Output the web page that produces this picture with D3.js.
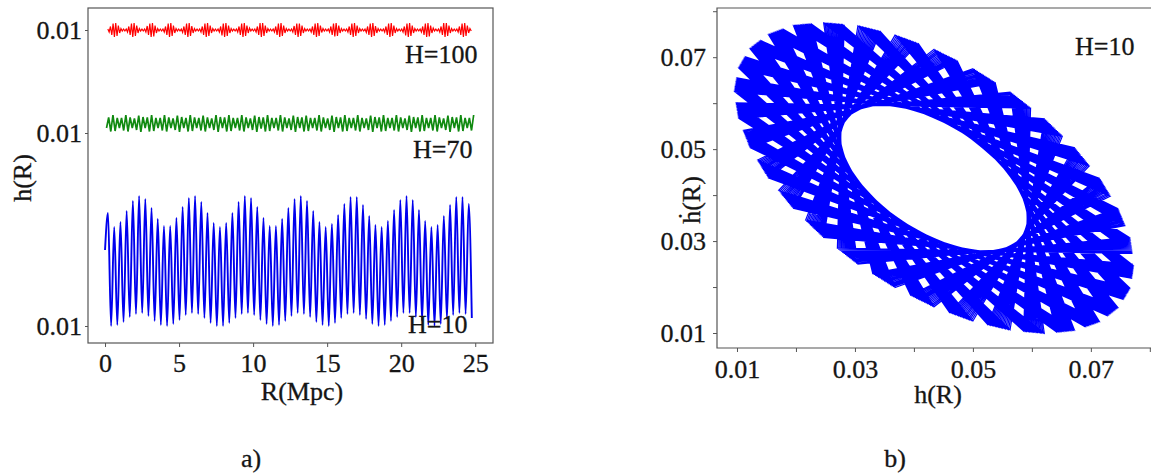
<!DOCTYPE html>
<html><head><meta charset="utf-8">
<script src="https://cdn.jsdelivr.net/npm/d3@7"></script>
<style>
body{margin:0;background:#fff;}
svg text{font-family:"Liberation Serif","Times New Roman",serif;fill:#151515;stroke:#151515;stroke-width:0.3px;}
</style></head><body>
<svg id="c" width="1151" height="474"></svg>
<script>
// ---------- panel a data ----------
const xTicksA = [0, 5, 10, 15, 20, 25];
const yTicksA = [1.7, 21.0, 31.3];
const yTickLabelsA = ["0.01", "0.01", "0.01"];
const seriesLabels = ["H=100", "H=70", "H=10"];
const blueStart = 9.3;
const bluePeaks = [13.0,11.6,12.1,13.2,14.2,14.7,14.4,13.5,12.4,11.7,
  11.7,12.5,13.6,14.5,14.7,14.1,13.0,12.0,11.6,12.0,
  13.0,14.1,14.7,14.5,13.6,12.5,11.7,11.7,12.4,13.5,
  14.4,14.7,14.2,13.2,12.1,11.6,11.9,12.8,13.9,14.6,
  14.6,13.8,12.7,11.8,11.6,12.2,13.3,14.3,14.7,14.3,
  13.3,12.2,11.6,11.8,12.7,13.8,14.6,14.6,13.9];
const blueTroughs = [1.7,1.8,2.1,2.6,2.9,3.0,2.7,2.2,1.8,1.7,
  1.9,2.3,2.8,3.0,2.9,2.5,2.0,1.7,1.7,2.0,
  2.5,2.9,3.0,2.8,2.3,1.9,1.7,1.8,2.2,2.7,
  3.0,2.9,2.6,2.1,1.8,1.7,2.0,2.5,2.9,3.0,
  2.8,2.4,1.9,1.7,1.8,2.2,2.6,3.0,3.0,2.6,
  2.2,1.8,1.7,1.9,2.4,2.8,3.0,2.9,2.5];
const redH = [
  31.4,31.1,31.65,30.8,31.95,30.6,32.0,30.7,31.75,31.0,31.45,31.2,31.4,31.2,
  31.4,31.1,31.65,30.8,31.95,30.6,32.0,30.7,31.75,31.0,31.45,31.2,31.4,31.2,
  31.4,31.1,31.7,30.8,31.95,30.6,32.0,30.65,31.75,31.0,31.45,31.2,31.4,31.2,
  31.4,31.1,31.65,30.8,31.95,30.6,32.0,30.7,31.75,31.0,31.45,31.2,31.4,31.2,
  31.4,31.05,31.65,30.8,31.95,30.6,32.0,30.7,31.7,31.0,31.45,31.2,31.4,31.2,
  31.4,31.1,31.65,30.8,31.95,30.6,32.0,30.7,31.75,31.0,31.45,31.2,31.4,31.2,
  31.4,31.1,31.65,30.75,31.95,30.6,32.0,30.7,31.75,31.0,31.45,31.2,31.4,31.2,
  31.4,31.1,31.65,30.8,31.95,30.6,32.0,30.7,31.75,31.0,31.5,31.2,31.4,31.2,
  31.4,31.1,31.65,30.8,32.0,30.6,32.0,30.7,31.75,31.0,31.45,31.2,31.4,31.2,
  31.4,31.1,31.65,30.8,31.95,30.6,32.0,30.7,31.75,31.0,31.45,31.2,31.4,31.2,
  31.4,31.1,31.7,30.8,31.95,30.6,31.95,30.7,31.75,31.0,31.45,31.2,31.4,31.2,
  31.4,31.1,31.65,30.8,31.95,30.6,32.0,30.7,31.75,31.05,31.45,31.2,31.4,31.2,
  31.4,31.1,31.65,30.8,31.95,30.65,32.0,30.7,31.75,31.0,31.45,31.2,31.4,31.2,
  31.4,31.1,31.65,30.8,31.95,30.6,32.0,30.7,31.75,31.0,31.45,31.2,31.4,31.2,
  31.4,31.05,31.65,30.8,31.95,30.6,32.0,30.7,31.7,31.0,31.45,31.2,31.4,31.2,
  31.4,31.1,31.65,30.8,31.95,30.6,32.0,30.7,31.75,31.0,31.45,31.2,31.4,31.2,
  31.4,31.1,31.65,30.75,31.95,30.6,32.0,30.7,31.75,31.0,31.45,31.2,31.4,31.2,
  31.4,31.1,31.65,30.8,31.95,30.6,32.0,30.65,31.75,31.0,31.5,31.2,31.4,31.2,
  31.4,31.1,31.65,30.8,32.0,30.6,32.0,30.7,31.75,31.0,31.45,31.2,31.4,31.2,
  31.4,31.1,31.65,30.8,31.95,30.6,32.0,30.7,31.75,31.0,31.45,31.2];
const greenH = [
  21.5,22.55,21.15,22.8,21.2,22.5,21.5,22.5,21.25,22.8,21.15,22.55,21.5,22.45,21.3,22.75,21.1,22.6,
  21.5,22.55,21.15,22.8,21.2,22.5,21.5,22.5,21.25,22.8,21.15,22.55,21.5,22.45,21.3,22.75,21.1,22.6,
  21.5,22.5,21.15,22.8,21.2,22.55,21.5,22.5,21.25,22.75,21.15,22.55,21.5,22.45,21.3,22.8,21.1,22.6,
  21.5,22.55,21.15,22.8,21.2,22.5,21.5,22.5,21.25,22.8,21.15,22.55,21.5,22.45,21.3,22.75,21.1,22.6,
  21.45,22.55,21.15,22.8,21.2,22.5,21.5,22.5,21.25,22.8,21.15,22.55,21.5,22.45,21.3,22.75,21.1,22.6,
  21.5,22.55,21.15,22.75,21.2,22.5,21.5,22.5,21.25,22.8,21.15,22.55,21.5,22.45,21.3,22.75,21.1,22.6,
  21.5,22.55,21.15,22.8,21.2,22.5,21.5,22.5,21.25,22.8,21.15,22.5,21.5,22.45,21.3,22.75,21.1,22.6,
  21.5,22.55,21.15,22.8,21.2,22.5,21.5,22.5,21.25,22.8,21.15,22.55,21.5,22.45,21.3,22.75,21.1,22.6,
  21.5,22.55,21.15,22.8,21.2,22.5,21.5,22.5,21.25,22.8,21.15,22.55,21.5,22.45,21.3,22.75,21.1,22.6,
  21.5,22.55,21.15,22.8,21.2,22.5,21.5,22.5,21.25,22.8];

// ---------- panel b data ----------
const ticksB = [0.01, 0.03, 0.05, 0.07];
const minorTicksB = [0.02, 0.04, 0.06, 0.08];
// sample points (teeth) of the h / dh trajectory
const toothH = [0.0771,0.0765,0.0745,0.0714,0.0672,0.0621,0.0563,0.0500,0.0434,0.0368,0.0305,0.0247,0.0196,0.0154,0.0123,0.0104,
  0.0097,0.0104,0.0123,0.0154,0.0196,0.0247,0.0305,0.0368,0.0434,0.0500,0.0563,0.0621,0.0672,0.0714,0.0745,0.0765];
const toothDH = [0.0250,0.0199,0.0157,0.0126,0.0107,0.0100,0.0107,0.0126,0.0157,0.0199,0.0250,0.0308,0.0371,0.0437,0.0503,0.0566,
  0.0624,0.0675,0.0717,0.0748,0.0768,0.0774,0.0768,0.0748,0.0717,0.0675,0.0624,0.0566,0.0503,0.0437,0.0371,0.0308];
const toothStep = 11;   // teeth advanced per sample
const passShift = [0, 0.04, 0.08, 0.12, 0.16, 0.2, 0.24, 0.28, 0.32, 0.36, 0.4, 0.44, 0.48, 0.52, 0.56, 0.6];

// ---------- build ----------
const svg = d3.select("#c");
const FRAME = "#555";
const FS = 26;

// panel a
const xA = d3.scaleLinear().domain([-1.15, 26.2]).range([88, 493]);
const yA = d3.scaleLinear().domain([0, 33.5]).range([343, 8]);

const blueR = [0].concat(d3.range(bluePeaks.length + blueTroughs.length).map(i => 0.2 + 0.21 * i));
const blueH = [blueStart];
bluePeaks.forEach((p, i) => { blueH.push(p); if (i < blueTroughs.length) blueH.push(blueTroughs[i]); });
const redR = redH.map((d, i) => 0.19 + 0.0886 * i);
const greenR = greenH.map((d, i) => 0.1 + 0.145 * i);

const lineA = d3.line().x(d => xA(d[0])).y(d => yA(d[1]));
const gA = svg.append("g");
gA.append("path").attr("d", lineA.curve(d3.curveLinear)(redR.map((r, i) => [r, redH[i]])))
  .attr("fill", "none").attr("stroke", "#ff0000").attr("stroke-width", 1.2);
gA.append("path").attr("d", lineA.curve(d3.curveLinear)(greenR.map((r, i) => [r, greenH[i]])))
  .attr("fill", "none").attr("stroke", "#108a10").attr("stroke-width", 1.7);
gA.append("path").attr("d", lineA.curve(d3.curveMonotoneX)(blueR.map((r, i) => [r, blueH[i]])))
  .attr("fill", "none").attr("stroke", "#0000ee").attr("stroke-width", 1.9);

gA.append("rect").attr("x", 88).attr("y", 8).attr("width", 405).attr("height", 335)
  .attr("fill", "none").attr("stroke", FRAME).attr("stroke-width", 1.2);

const axA = gA.append("g").attr("transform", "translate(0,343)")
  .call(d3.axisBottom(xA).tickValues(xTicksA).tickSize(4).tickSizeOuter(0).tickPadding(6.5));
const ayA = gA.append("g").attr("transform", "translate(88,0)")
  .call(d3.axisLeft(yA).tickValues(yTicksA).tickFormat((d, i) => yTickLabelsA[i]).tickSize(3).tickSizeOuter(0).tickPadding(3));
[axA, ayA].forEach(g => {
  g.attr("font-family", null).attr("font-size", null);
  g.select(".domain").remove();
  g.selectAll("line").attr("stroke", FRAME);
  g.selectAll("text").attr("font-size", FS).attr("fill", "#151515");
});

gA.append("text").attr("x", 405).attr("y", 63).attr("font-size", FS).text(seriesLabels[0]);
gA.append("text").attr("x", 413).attr("y", 158).attr("font-size", FS).text(seriesLabels[1]);
gA.append("text").attr("x", 408).attr("y", 333).attr("font-size", FS).text(seriesLabels[2]);
gA.append("text").attr("x", 302).attr("y", 400).attr("text-anchor", "middle").attr("font-size", FS).text("R(Mpc)");
gA.append("text").attr("transform", "translate(31,178) rotate(-90)").attr("text-anchor", "middle").attr("font-size", FS).text("h(R)");
gA.append("text").attr("x", 251).attr("y", 467).attr("text-anchor", "middle").attr("font-size", FS).text("a)");

// panel b
const xB = d3.scaleLinear().domain([0.00661, 0.0802]).range([717, 1151]);
const yB = d3.scaleLinear().domain([0.00674, 0.0807]).range([348, 8]);
const gB = svg.append("g");
const nT = toothH.length;
const pts = [];
passShift.forEach(s => {
  for (let n = 0; n < nT; n++) {
    const t = (toothStep * n) % nT, u = (t + 1) % nT;
    pts.push([toothH[t] + s * (toothH[u] - toothH[t]), toothDH[t] + s * (toothDH[u] - toothDH[t])]);
  }
});
gB.append("path").attr("d", d3.line().x(d => xB(d[0])).y(d => yB(d[1]))(pts))
  .attr("fill", "none").attr("stroke", "#0000ff").attr("stroke-width", 1.2).attr("stroke-linejoin", "miter");

gB.append("path").attr("d", "M1160,8H717V348H1160").attr("fill", "none").attr("stroke", FRAME).attr("stroke-width", 1.2);
const allB = ticksB.concat(minorTicksB);
const fmt = d3.format(".2f");
const axB = gB.append("g").attr("transform", "translate(0,348)")
  .call(d3.axisBottom(xB).tickValues(allB).tickFormat(d => ticksB.includes(d) ? fmt(d) : "").tickSize(4).tickSizeOuter(0).tickPadding(7.5));
const ayB = gB.append("g").attr("transform", "translate(717,0)")
  .call(d3.axisLeft(yB).tickValues(allB).tickFormat(d => ticksB.includes(d) ? fmt(d) : "").tickSize(4).tickSizeOuter(0).tickPadding(7));
[axB, ayB].forEach(g => {
  g.attr("font-family", null).attr("font-size", null);
  g.select(".domain").remove();
  g.selectAll("line").attr("stroke", FRAME);
  g.selectAll("text").attr("font-size", FS).attr("fill", "#151515");
});
gB.append("text").attr("x", 1075).attr("y", 55).attr("font-size", FS).text("H=10");
gB.append("text").attr("x", 938).attr("y", 403).attr("text-anchor", "middle").attr("font-size", FS).text("h(R)");
gB.append("text").attr("transform", "translate(700,200) rotate(-90)").attr("text-anchor", "middle").attr("font-size", FS).text("ḣ(R)");
gB.append("text").attr("x", 895).attr("y", 467).attr("text-anchor", "middle").attr("font-size", FS).text("b)");
</script>
</body></html>
